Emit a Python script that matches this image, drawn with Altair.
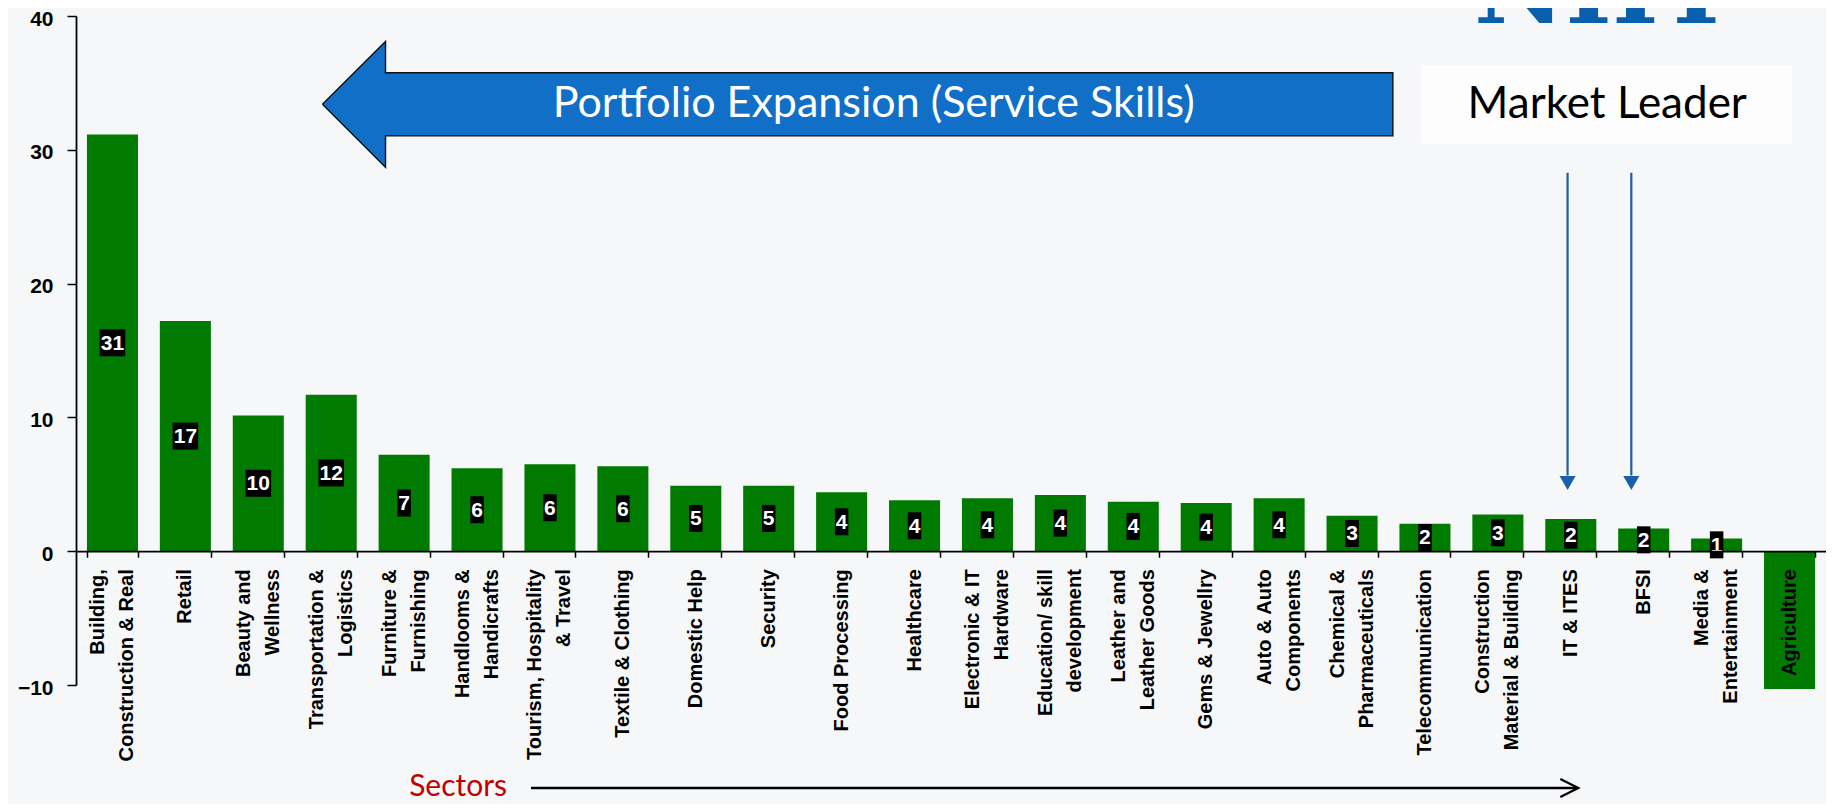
import altair as alt
import pandas as pd

# ---------------- data ----------------
CATEGORIES = [
    "Building,\nConstruction & Real",
    "Retail",
    "Beauty and\nWellness",
    "Transportation &\nLogistics",
    "Furniture &\nFurnishing",
    "Handlooms &\nHandicrafts",
    "Tourism, Hospitality\n& Travel",
    "Textile & Clothing",
    "Domestic Help",
    "Security",
    "Food Processing",
    "Healthcare",
    "Electronic & IT\nHardware",
    "Education/ skill\ndevelopment",
    "Leather and\nLeather Goods",
    "Gems & Jewellry",
    "Auto & Auto\nComponents",
    "Chemical &\nPharmaceuticals",
    "Telecommunication",
    "Construction\nMaterial & Building",
    "IT & ITES",
    "BFSI",
    "Media &\nEntertainment",
    "Agriculture",
]
VALUES = [31.15, 17.2, 10.15, 11.7, 7.2, 6.2, 6.5, 6.35, 4.9, 4.9, 4.4, 3.8,
          3.95, 4.2, 3.7, 3.6, 3.95, 2.65, 2.05, 2.75, 2.4, 1.7, 0.95, -10.3]
LABELS = ["31", "17", "10", "12", "7", "6", "6", "6", "5", "5", "4", "4",
          "4", "4", "4", "4", "4", "3", "2", "3", "2", "2", "1", ""]
Y_TICKS = [-10, 0, 10, 20, 30, 40]

# annotations, in data units (x: category slots 0..24, y: axis units)
BIG_ARROW_X = [3.38, 4.245, 4.245, 18.06, 18.06, 4.245, 4.245, 3.38]
BIG_ARROW_Y = [33.4, 38.1, 35.76, 35.76, 31.04, 31.04, 28.7, 33.4]
BIG_ARROW_TEXT = ["Portfolio Expansion (Service Skills)"]
BIG_ARROW_TEXT_X = [10.94]
BIG_ARROW_TEXT_Y = [33.4]

LEADER_BOX_X = [18.44]
LEADER_BOX_X2 = [23.53]
LEADER_BOX_Y = [30.46]
LEADER_BOX_Y2 = [36.33]
LEADER_TEXT = ["Market Leader"]
LEADER_TEXT_X = [21.0]
LEADER_TEXT_Y = [33.33]
LEADER_ARROW_X = [20.456, 21.33]
LEADER_ARROW_TOP = [28.28, 28.28]
LEADER_ARROW_BASE = [5.65, 5.65]
LEADER_HEAD_Y = [5.1, 5.1]

SECTOR_LINE_X = [6.24]
SECTOR_LINE_X2 = [20.6]
SECTOR_LINE_Y = [-17.7]
SECTOR_HEAD_X = [20.48]
SECTOR_TEXT = ["Sectors"]
SECTOR_TEXT_X = [5.24]
SECTOR_TEXT_Y = [-17.6]

LOGO_TEXT = ["NIIT"]
LOGO_X = [20.95]
LOGO_Y = [39.5]

# ---------------- chart ----------------
GREEN = "#007a00"
BLUE = "#116fc7"
AXIS_FONT = "Liberation Sans"

df = pd.DataFrame({"sector": CATEGORIES, "value": VALUES, "label": LABELS})


def ys():
    return alt.Scale(domain=[-10, 40], nice=False, zero=False)


def xq():
    return alt.Scale(domain=[0, 24], nice=False, zero=False)


def xb():
    return alt.Scale(domain=CATEGORIES, paddingInner=0.3, paddingOuter=0.15)


x_axis = alt.Axis(
    title=None, offset=-133.8, zindex=1, labels=False,
    tickBand="extent", tickSize=6, tickColor="black", tickWidth=1.5,
    domainColor="black", domainWidth=1.8, grid=False,
)
y_axis = alt.Axis(
    title=None, values=Y_TICKS, zindex=1,
    labelFont=AXIS_FONT, labelFontWeight="bold", labelFontSize=21,
    labelColor="black", labelPadding=14, labelOffset=3,
    tickSize=9, tickColor="black", tickWidth=1.5,
    domainColor="black", domainWidth=1.8, grid=False,
)

bars = alt.Chart(df).mark_bar(color=GREEN).encode(
    x=alt.X("sector:N", scale=xb(), axis=x_axis, sort=None),
    y=alt.Y("value:Q", scale=ys(), axis=y_axis),
)


def band_enc(yfield):
    return dict(
        x=alt.X("sector:N", scale=xb(), axis=None, sort=None),
        y=alt.Y(yfield, scale=ys(), axis=None),
    )


# category labels (rotated, one layer for single-line, one for two-line names)
cat_base = alt.Chart(df).transform_calculate(zero="0")
cat_style = dict(
    angle=270, align="right", baseline="middle", lineBreak="\n",
    font=AXIS_FONT, fontWeight="bold", fontSize=20, lineHeight=29,
    color="black", dx=-18,
)
cat1 = cat_base.transform_filter("indexof(datum.sector, '\\n') < 0").mark_text(
    **cat_style
).encode(text="sector:N", **band_enc("zero:Q"))
cat2 = cat_base.transform_filter("indexof(datum.sector, '\\n') >= 0").mark_text(
    dy=-14.5, **cat_style
).encode(text="sector:N", **band_enc("zero:Q"))

# value labels in black boxes
lab_base = alt.Chart(df).transform_filter("datum.label != ''").transform_calculate(
    mid="datum.value / 2"
)
box1 = lab_base.transform_filter("length(datum.label) == 1").mark_point(
    shape="M-0.5,-1H0.5V1H-0.5Z", size=729, filled=True, color="black",
    opacity=1, strokeWidth=0,
).encode(**band_enc("mid:Q"))
box2 = lab_base.transform_filter("length(datum.label) == 2").mark_point(
    shape="M-0.95,-1H0.95V1H-0.95Z", size=729, filled=True, color="black",
    opacity=1, strokeWidth=0,
).encode(**band_enc("mid:Q"))
val_text = lab_base.mark_text(
    font=AXIS_FONT, fontWeight="bold", fontSize=21, color="white",
    baseline="middle", dy=1,
).encode(text="label:N", **band_enc("mid:Q"))


def qx(field):
    return alt.X(field, scale=xq(), axis=None)


def qy(field):
    return alt.Y(field, scale=ys(), axis=None)


# annotations
arrow_df = pd.DataFrame({"ax": BIG_ARROW_X, "ay": BIG_ARROW_Y,
                         "o": list(range(len(BIG_ARROW_X)))})
big_arrow = alt.Chart(arrow_df).mark_line(
    fill=BLUE, stroke="#111111", strokeWidth=1.4, strokeJoin="miter",
).encode(x=qx("ax:Q"), y=qy("ay:Q"), order="o:Q")

big_text = alt.Chart(pd.DataFrame({"t": BIG_ARROW_TEXT, "x": BIG_ARROW_TEXT_X,
                                   "y": BIG_ARROW_TEXT_Y})).mark_text(
    font="Lato", fontSize=43, color="white", baseline="middle", align="center"
).encode(x=qx("x:Q"), y=qy("y:Q"), text="t:N")

leader_box = alt.Chart(pd.DataFrame({"x": LEADER_BOX_X, "x2": LEADER_BOX_X2,
                                     "y": LEADER_BOX_Y, "y2": LEADER_BOX_Y2})).mark_rect(
    fill="#fdfdfe"
).encode(x=qx("x:Q"), x2="x2:Q", y=qy("y:Q"), y2="y2:Q")

leader_text = alt.Chart(pd.DataFrame({"t": LEADER_TEXT, "x": LEADER_TEXT_X,
                                      "y": LEADER_TEXT_Y})).mark_text(
    font="Lato", fontSize=44, color="black", baseline="middle", align="center"
).encode(x=qx("x:Q"), y=qy("y:Q"), text="t:N")

larrow_df = pd.DataFrame({"x": LEADER_ARROW_X, "top": LEADER_ARROW_TOP,
                          "base": LEADER_ARROW_BASE, "hy": LEADER_HEAD_Y})
leader_lines = alt.Chart(larrow_df).mark_rule(color="#1b5ea9", strokeWidth=2.2).encode(
    x=qx("x:Q"), y=qy("top:Q"), y2="base:Q"
)
leader_heads = alt.Chart(larrow_df).mark_point(
    shape="triangle-down", size=256, filled=True, color="#1b5ea9", opacity=1,
    strokeWidth=0,
).encode(x=qx("x:Q"), y=qy("hy:Q"))

sector_line = alt.Chart(pd.DataFrame({"x": SECTOR_LINE_X, "x2": SECTOR_LINE_X2,
                                      "y": SECTOR_LINE_Y})).mark_rule(
    color="black", strokeWidth=2.4
).encode(x=qx("x:Q"), x2="x2:Q", y=qy("y:Q"))

sector_head = alt.Chart(pd.DataFrame({"x": SECTOR_HEAD_X, "y": SECTOR_LINE_Y})).mark_point(
    shape="M-1,-1L1,0L-1,1", size=324, filled=False, color="black", opacity=1,
    strokeWidth=2.2,
).encode(x=qx("x:Q"), y=qy("y:Q"))

sector_text = alt.Chart(pd.DataFrame({"t": SECTOR_TEXT, "x": SECTOR_TEXT_X,
                                      "y": SECTOR_TEXT_Y})).mark_text(
    font="Lato", fontSize=30, color="#c00000", baseline="middle", align="center"
).encode(x=qx("x:Q"), y=qy("y:Q"), text="t:N")

logo = alt.Chart(pd.DataFrame({"t": LOGO_TEXT, "x": LOGO_X, "y": LOGO_Y})).mark_text(
    font="DejaVu Serif", fontWeight="bold", fontSize=100, color="#0a5fad",
    baseline="alphabetic", align="center"
).encode(x=qx("x:Q"), y=qy("y:Q"), text="t:N")

chart = alt.layer(
    bars, cat1, cat2, box1, box2, val_text,
    big_arrow, big_text, leader_box, leader_text, leader_lines,
    leader_heads, sector_line, sector_head, sector_text, logo,
).resolve_scale(x="independent", y="independent").properties(
    width=1750, height=669,
    autosize=alt.AutoSizeParams(type="none"),
    padding={"left": 68, "top": 8, "right": 0, "bottom": 119},
    background="#f6f7f9",
).configure_view(stroke=None)

chart.save("out.html", embed_options={"renderer": "svg", "actions": False})
